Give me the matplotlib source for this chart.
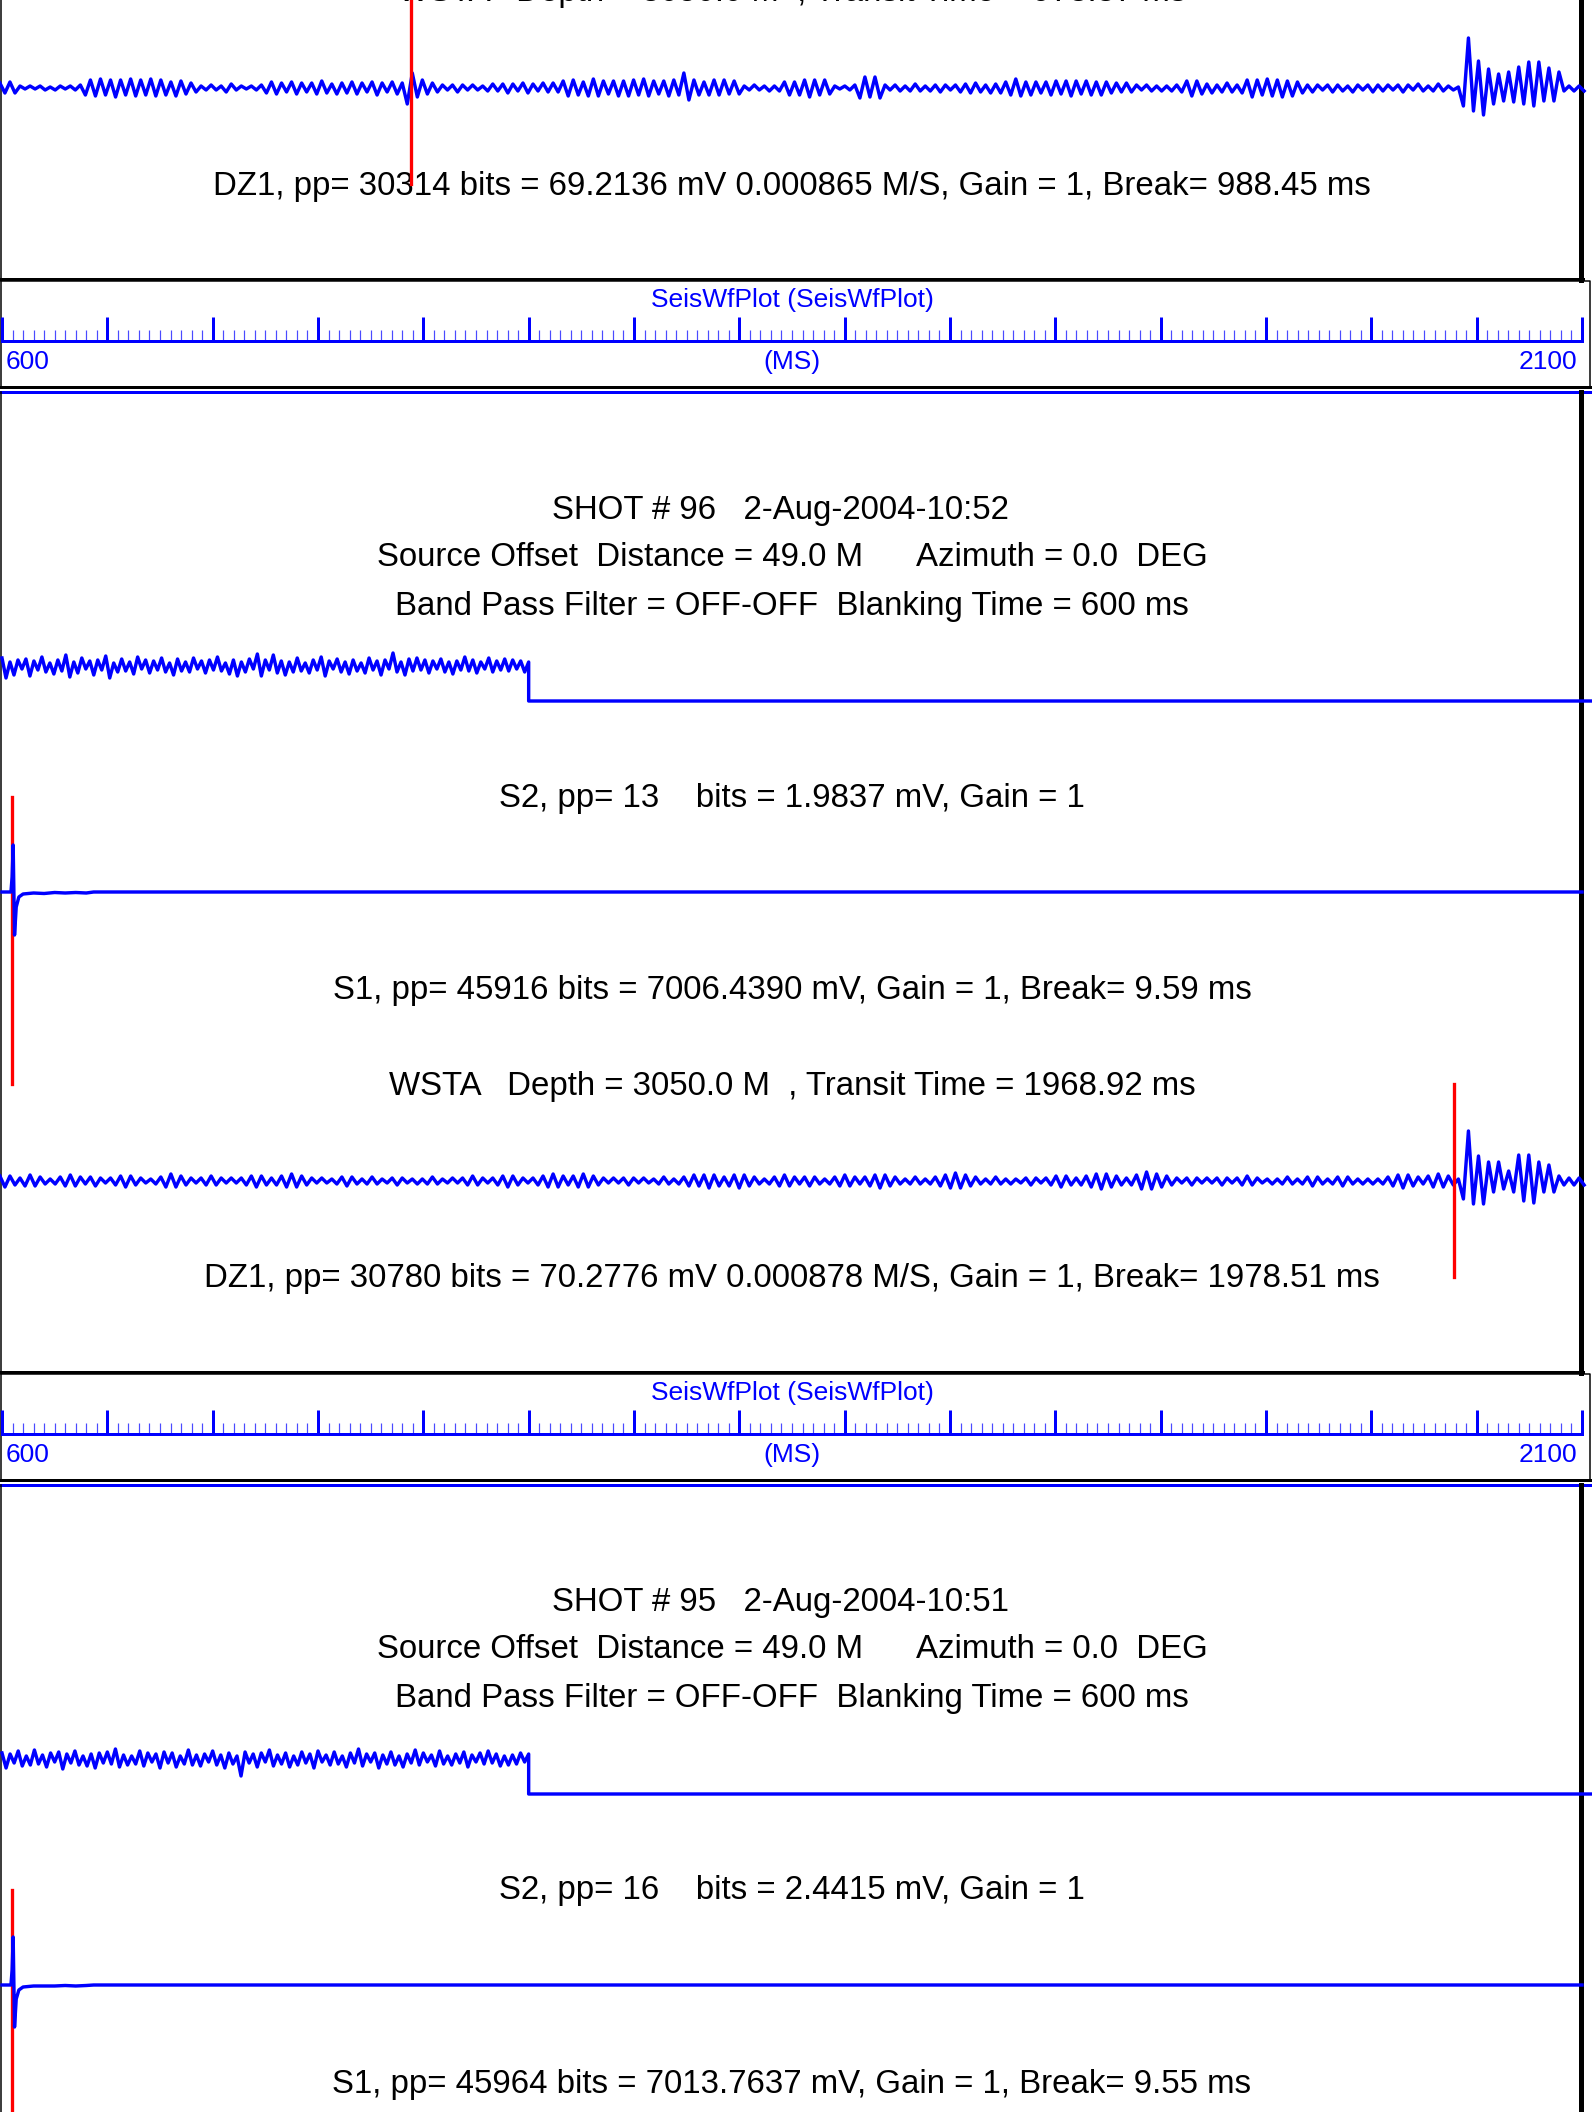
import numpy as np
import matplotlib
matplotlib.use("Agg")
import matplotlib.pyplot as plt
from matplotlib.ticker import MultipleLocator

W, H, DPI = 1592, 2112, 100
T_START, T_END = 600, 2100          # ms shown on the ruler
PX_PER_MS = 1580 / 1500             # ruler spans 1580 px
X_LEFT = 2                          # px where 600 ms sits

# ---- data (amplitudes in screen px, + is up) ----
# DZ1 traces: half-cycle peak sizes, sign alternates (+,-,+,...), 600..2100 ms
dz1_a_amp = [5, 5, 6, 5, 2, 1, 2, 1, 2, 2, 1, 2, 2, 1, 2, 2, 3,
             7, 8, 8, 9, 7, 8, 9, 8, 7, 9, 8, 8, 7, 9, 8, 8, 7, 6, 8, 7, 6, 5, 4,
             2, 2, 3, 2, 2, 4, 4, 2, 2, 1, 2, 2, 3,
             5, 6, 6, 5, 4, 6, 6, 5, 4, 5, 6, 7, 5, 4, 6, 5, 5, 6, 6, 5, 4, 6, 7, 5, 4, 6, 6,
             5, 16, 15, 9, 8, 6, 5, 4, 3, 2, 3, 4, 3, 2, 3, 2, 2, 3, 4, 3,
             4, 5, 4, 3, 5, 5, 4, 3, 5, 4, 5, 4,
             7, 8, 8, 7, 6, 8, 9, 8, 7, 6, 7, 8, 7, 8, 8, 7, 9, 8, 7, 6, 7, 8, 8, 7, 15, 12, 8, 7,
             6, 7, 8, 7, 8, 6, 7, 6, 2, 2, 3, 2, 2, 3, 2, 3, 6, 7, 6, 7,
             8, 9, 8, 7, 8, 6, 2, 1, 2, 2, 3, 10, 11, 9, 11, 10,
             3, 2, 3, 3, 2, 3, 4, 3, 2, 3, 3, 4, 3, 2, 3, 4,
             4, 5, 5, 4, 3, 5, 4, 5, 6, 7, 9, 8, 6, 7, 6, 5,
             6, 7, 7, 6, 7, 8, 7, 6, 7, 7, 6, 7, 6, 5, 5, 4, 5, 4,
             3, 2, 3, 3, 2, 3, 2, 3, 3, 4, 7, 8, 7, 6,
             4, 5, 3, 4, 5, 4, 3, 5, 8, 9, 8, 7, 9, 8, 8, 9, 7, 8, 6, 5,
             3, 4, 3, 2, 3, 4, 3, 3, 2, 4, 3, 2, 3, 4, 3, 3,
             3, 2, 3, 4, 3, 2, 4, 3, 2, 3, 4, 3, 2, 2, 1,
             18, 50, 23, 27, 27, 19, 16, 14, 13, 16, 14, 21, 16, 26, 18, 26, 13, 20, 13, 16, 3,
             2, 3, 2, 3]
dz1_b_amp = [5, 6, 5, 4, 3, 5, 6, 5, 4, 3, 2, 3, 4, 5, 6, 5, 4, 3, 4, 5,
             3, 2, 3, 4, 5, 6, 5, 4, 3, 2, 2, 3, 4, 6, 7, 6, 5, 4, 3, 2,
             3, 4, 5, 4, 3, 2, 3, 2, 3, 4, 5, 6, 5, 4, 3, 4, 5, 6, 7, 6,
             5, 4, 3, 2, 3, 2, 2, 3, 4, 5, 4, 3, 2, 3, 4, 3, 2, 2, 3, 4,
             3, 2, 2, 3, 2, 3, 4, 3, 2, 2, 3, 2, 3, 4, 5, 4, 3, 2, 3, 4,
             5, 6, 5, 4, 3, 2, 3, 4, 5, 6, 7, 6, 5, 4, 5, 6, 7, 6, 5, 4,
             3, 2, 3, 2, 3, 4, 3, 2, 3, 2, 2, 3, 4, 3, 2, 3, 4, 5, 6, 5,
             6, 7, 6, 5, 4, 5, 6, 7, 6, 5, 4, 3, 2, 3, 4, 5, 6, 5, 4, 3,
             4, 5, 4, 3, 2, 3, 4, 5, 6, 5, 4, 3, 4, 5, 6, 7, 6, 5, 4, 3,
             2, 3, 4, 3, 2, 3, 4, 5, 6, 7, 8, 7, 6, 5, 4, 3, 2, 3, 4, 3,
             2, 3, 2, 2, 3, 4, 3, 2, 3, 4, 5, 6, 5, 4, 3, 4, 5, 6, 7, 8,
             7, 6, 5, 4, 3, 4, 6, 8, 9, 8, 7, 6, 5, 4, 3, 2, 3, 4, 3, 2,
             3, 2, 3, 4, 3, 2, 3, 4, 5, 4, 3, 2, 2, 3, 2, 3, 4, 3, 2, 3,
             4, 5, 4, 3, 2, 3, 4, 5, 4, 3, 2, 3, 2, 3, 2, 3, 4, 5, 6, 7, 6, 5, 4, 3,
             5, 6, 7, 6, 5, 4, 2,
             18, 50, 23, 25, 23, 19, 11, 19, 8, 10, 11, 26, 20, 26, 22, 19, 11, 16, 11, 5, 4,
             3, 4, 3, 4]

# S2 traces: noise until the 1100 ms blanking step, then flat
s2_b_noise = [8, -12, 4, -9, 6, -3, 7, -10, 5, -4, 9, -6, 3, -8, 6, -5, 11, -11, 4, -7,
              8, -3, 5, -9, 6, -4, 10, -12, 3, -6, 7, -5, 4, -8, 9, -3, 6, -7, 5, -4,
              8, -6, 3, -9, 7, -5, 4, -6, 8, -3, 5, -7, 6, -4, 9, -5, 3, -8, 6, -10,
              4, -6, 7, -3, 12, -10, 6, -4, 11, -7, 5, -9, 4, -6, 8, -5, 3, -7, 6, -4,
              9, -10, 5, -3, 7, -6, 4, -8, 6, -5, 3, -7, 8, -4, 5, -9, 6, -3, 13, -6,
              4, -9, 7, -5, 8, -4, 6, -7, 5, -3, 7, -6, 4, -8, 5, -4, 9, -5, 6, -7,
              4, -3, 8, -6, 5, -4, 7, -5, 6, -3, 5, -6, 4]
s2_c_noise = [6, -9, 5, -4, 8, -7, 3, -6, 9, -5, 4, -8, 6, -3, 7, -10, 5, -4, 8, -6,
              3, -7, 5, -9, 6, -4, 7, -5, 10, -8, 4, -6, 3, -5, 8, -7, 6, -3, 5, -9,
              7, -4, 6, -8, 3, -5, 9, -6, 4, -7, 5, -3, 8, -6, 4, -9, 6, -5, 3, -17,
              7, -4, 5, -8, 6, -3, 9, -7, 4, -5, 6, -8, 3, -6, 7, -4, 5, -9, 8, -3,
              4, -6, 7, -5, 3, -8, 6, -4, 10, -7, 5, -3, 6, -9, 4, -5, 7, -6, 3, -8,
              5, -4, 9, -6, 6, -3, 4, -7, 8, -5, 3, -6, 5, -4, 7, -8, 4, -3, 6, -5,
              8, -4, 5, -7, 3, -6, 4, -5, 6, -3, 5]
s2_step_ms = 1100
s2_flat = -35

# S1 traces: source pulse
s1_time = [600, 608.5, 609.6, 610.6, 611.9, 613.5, 616, 620, 630, 640, 650, 660, 670, 680, 687, 2100]
s1_b_amp = [0, 0, 15, 47, -43, -15, -5, -2, -1, -1.5, -0.5, -1, -0.5, -1, 0, 0]
s1_c_amp = [0, 0, 15, 48, -42, -14, -5, -2, -1, -1, -1, -0.5, -1, -0.5, 0, 0]

# picks (ms on the ruler)
s1_break = [609.59, 609.55]
dz1_break = [988.45, 1978.51]

shot_titles = ["SHOT # 96   2-Aug-2004-10:52", "SHOT # 95   2-Aug-2004-10:51"]
offset_text = "Source Offset  Distance = 49.0 M      Azimuth = 0.0  DEG"
filter_text = "Band Pass Filter = OFF-OFF  Blanking Time = 600 ms"
s2_labels = ["S2, pp= 13    bits = 1.9837 mV, Gain = 1",
             "S2, pp= 16    bits = 2.4415 mV, Gain = 1"]
s1_labels = ["S1, pp= 45916 bits = 7006.4390 mV, Gain = 1, Break= 9.59 ms",
             "S1, pp= 45964 bits = 7013.7637 mV, Gain = 1, Break= 9.55 ms"]
wsta_labels = ["WSTA   Depth = 3050.0 M  , Transit Time = 978.87 ms",
               "WSTA   Depth = 3050.0 M  , Transit Time = 1968.92 ms"]
dz1_labels = ["DZ1, pp= 30314 bits = 69.2136 mV 0.000865 M/S, Gain = 1, Break= 988.45 ms",
              "DZ1, pp= 30780 bits = 70.2776 mV 0.000878 M/S, Gain = 1, Break= 1978.51 ms"]


def lw(p):
    # line width given in pixels -> points
    return p * 72 / DPI


def draw_panel(fig, ax, y0, p):
    tr = ax.get_yaxis_transform()   # x in axes fraction, y in data (px rows)
    txt = dict(ha="center", va="center", fontsize=23.8, color="black")
    mid = (T_START + T_END) / 2
    trace = dict(color="blue", lw=lw(3.4), solid_joinstyle="round")

    # frame
    ax.plot([0, 1590 / W], [y0, y0], color="blue", lw=lw(3), transform=tr)
    ax.plot([1 / W, 1 / W], [y0, y0 + 981], color="black", lw=lw(1.5), transform=tr)
    ax.plot([1580.5 / W, 1580.5 / W], [y0, y0 + 981], color="black", lw=lw(5), transform=tr)
    ax.plot([0, 1583 / W], [y0 + 979.5, y0 + 979.5], color="black", lw=lw(3), transform=tr)

    if "title" in p:
        ax.text(mid - 11, y0 + 118, p["title"], **txt)
        ax.text(mid, y0 + 165, offset_text, **txt)
        ax.text(mid, y0 + 214, filter_text, **txt)

        # S2
        n = len(p["s2"])
        xs = np.concatenate([np.linspace(T_START, s2_step_ms, n), [s2_step_ms, T_END + 8]])
        ys = np.concatenate([p["s2"], [s2_flat, s2_flat]])
        ax.plot(xs, y0 + 274 - ys, zorder=3, **trace)
        ax.text(mid, y0 + 406, p["s2_label"], **txt)

        # S1
        ax.plot([p["s1_break"]] * 2, [y0 + 405, y0 + 692], color="red", lw=lw(3.3), zorder=2)
        ax.plot(s1_time, y0 + 500 - np.array(p["s1"]), zorder=3, **trace)
        ax.text(mid, y0 + 599, p["s1_label"], **txt)

    ax.text(mid, y0 + 694, p["wsta"], **txt)

    # DZ1
    amp = np.array(p["dz1"], dtype=float)
    sign = np.where(np.arange(len(amp)) % 2 == 0, 1.0, -1.0)
    t = np.linspace(T_START - 2, T_END + 2, len(amp))
    ax.plot(t, y0 + 789 - amp * sign, zorder=3, **trace)
    ax.plot([p["dz1_break"]] * 2, [y0 + 692, y0 + 885], color="red", lw=lw(3.3), zorder=4)
    ax.text(mid, y0 + 887, p["dz1_label"], **txt)

    # time ruler strip under the panel
    top = y0 + 981
    if top < H:
        ax.plot([0.5 / W, 1590 / W, 1590 / W], [top + 1, top + 1, top + 108],
                color="black", lw=lw(1.5), transform=tr)
        ax.plot([0.5 / W, 0.5 / W], [top, top + 108], color="black", lw=lw(1.5), transform=tr)
        ax.plot([0, 1591 / W], [top + 107, top + 107], color="black", lw=lw(3), transform=tr)
        blue = dict(color="blue", fontsize=19, va="center")
        ax.text(mid, top + 20, "SeisWfPlot (SeisWfPlot)", ha="center", **blue)
        ax.text(T_START + 3, top + 82, "600", ha="left", **blue)
        ax.text(mid, top + 82, "(MS)", ha="center", **blue)
        ax.text(T_END - 4.5, top + 82, "2100", ha="right", **blue)

        base = top + 61
        sax = fig.add_axes([X_LEFT / W, 1 - base / H, 1580 / W, 40 / H])
        sax.set_xlim(T_START, T_END)
        sax.set_ylim(0, 1)
        sax.patch.set_visible(False)
        for s in ("top", "left", "right"):
            sax.spines[s].set_visible(False)
        sax.spines["bottom"].set_color("blue")
        sax.spines["bottom"].set_linewidth(lw(3))
        sax.xaxis.set_major_locator(MultipleLocator(100))
        sax.xaxis.set_minor_locator(MultipleLocator(10))
        sax.tick_params(axis="x", which="major", direction="in", length=lw(24),
                        width=lw(3), color="blue", labelbottom=False)
        sax.tick_params(axis="x", which="minor", direction="in", length=lw(11),
                        width=lw(1.2), color="#4a4aff")
        sax.set_yticks([])


def main():
    plt.rcParams["font.family"] = ["Liberation Sans", "DejaVu Sans"]
    fig = plt.figure(figsize=(W / DPI, H / DPI), dpi=DPI)
    ax = fig.add_axes([0, 0, 1, 1])
    ax.set_xlim(T_START - X_LEFT / PX_PER_MS, T_START + (W - X_LEFT) / PX_PER_MS)
    ax.set_ylim(H, 0)
    ax.axis("off")

    panel_a = dict(wsta=wsta_labels[0], dz1=dz1_a_amp, dz1_break=dz1_break[0],
                   dz1_label=dz1_labels[0])
    panel_b = dict(title=shot_titles[0], s2=s2_b_noise, s2_label=s2_labels[0],
                   s1=s1_b_amp, s1_break=s1_break[0], s1_label=s1_labels[0],
                   wsta=wsta_labels[1], dz1=dz1_b_amp, dz1_break=dz1_break[1],
                   dz1_label=dz1_labels[1])
    panel_c = dict(title=shot_titles[1], s2=s2_c_noise, s2_label=s2_labels[1],
                   s1=s1_c_amp, s1_break=s1_break[1], s1_label=s1_labels[1],
                   wsta="", dz1=[], dz1_break=np.nan, dz1_label="")

    draw_panel(fig, ax, -701, panel_a)
    draw_panel(fig, ax, 392, panel_b)
    draw_panel(fig, ax, 1485, panel_c)

    fig.savefig("out.png", dpi=DPI)


if __name__ == "__main__":
    main()
